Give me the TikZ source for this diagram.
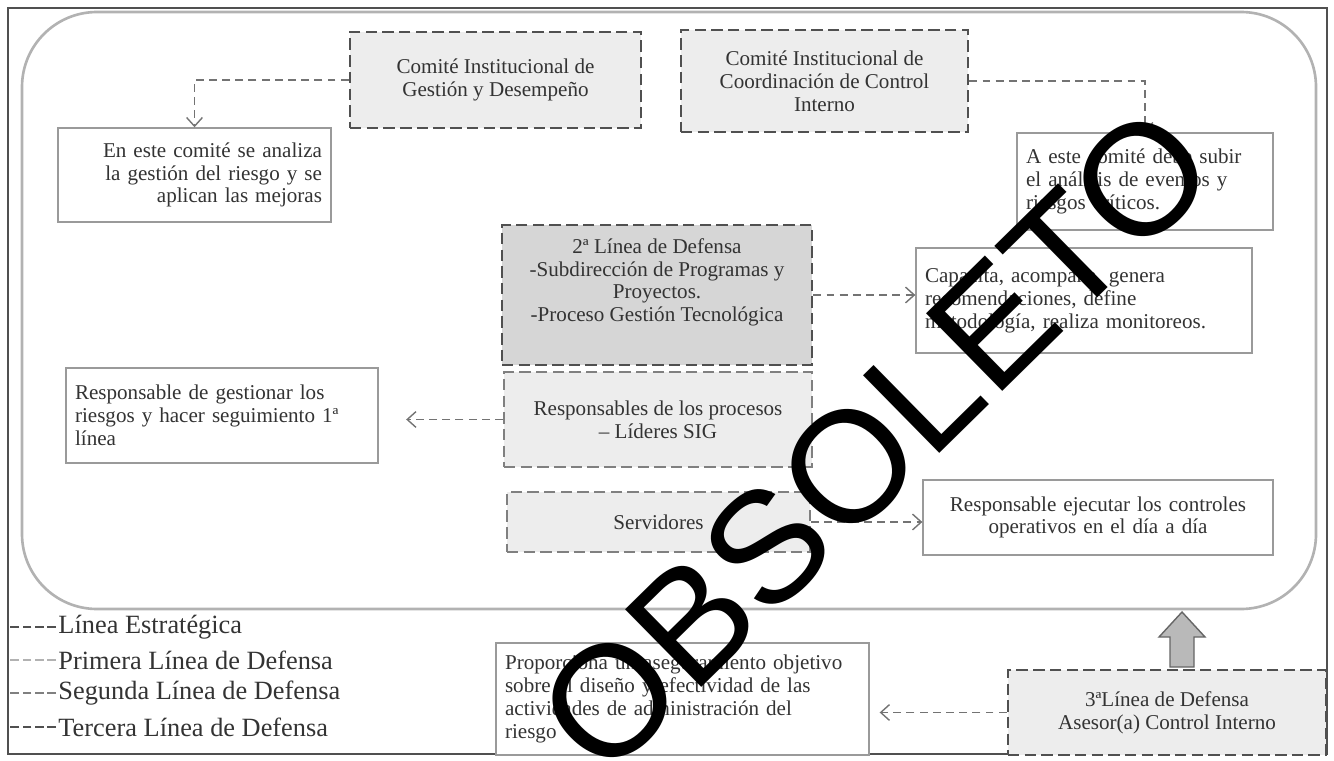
\documentclass[tikz,border=0pt]{standalone}
\usepackage{fontspec}
\setmainfont{Liberation Serif}
\newfontfamily\marcafont{Liberation Sans}
\usepackage{xcolor}
\usepackage{tikz}
\usetikzlibrary{arrows.meta}
\definecolor{txtgris}{HTML}{333333}
\definecolor{bordegris}{HTML}{505050}
\definecolor{fondoclaro}{HTML}{EDEDED}
\definecolor{fondomedio}{HTML}{D6D6D6}
\definecolor{lineagris}{HTML}{9A9A9A}

\begin{document}
\begin{tikzpicture}[x=0.02cm, y=-0.02cm, thick,
    linea node/.style={rectangle, draw=bordegris, line width=1.6pt, dash pattern=on 6.5pt off 3pt, fill=fondoclaro, text=txtgris, align=center, font=\fontsize{12}{13}\selectfont, inner sep=2pt},
    primera node/.style={linea node, draw=gray, line width=1.3pt},
    nota node/.style={rectangle, draw=lineagris, line width=0.8pt, fill=white, text=txtgris, font=\fontsize{12}{13}\selectfont, inner xsep=0.18cm},
    leyenda/.style={text=txtgris, font=\fontsize{15}{16}\selectfont, inner sep=1pt},
    muestra/.style={line width=0.8pt, dash pattern=on 5pt off 2pt},
    flecha/.style={draw=gray!90!black, line width=0.8pt, dash pattern=on 4.5pt off 3pt, -{Straight Barb[length=5pt,width=9pt]}},
    codo/.style={flecha, to path={-| (\tikztotarget)}}]

                \useasboundingbox (0,0) rectangle (1334,760);
                \draw[bordegris, line width=1.2pt] (8,8) rectangle (1327,754);
                \draw[gray!60, line width=1.5pt, rounded corners=1.5cm] (22,12) rectangle (1316,609);

                % comites
                \node[linea node, minimum width=5.82cm, minimum height=1.92cm] (cigd) at (495.5,80) {Comité Institucional de\\Gestión y Desempeño};
                \node[linea node, minimum width=5.74cm, minimum height=2.04cm] (coord) at (824.5,81) {Comité Institucional de\\Coordinación de Control\\Interno};
                \node[nota node, text width=5.1cm, minimum height=1.88cm, align=right] (eneste) at (194.5,175) {En este comité se analiza\\la gestión del riesgo y se\\aplican las mejoras};
                \node[nota node, text width=4.76cm, minimum height=1.94cm, align=left] (aeste) at (1145,181.5) {A este comité debe subir\\el análisis de eventos y\\riesgos críticos.};

                % lineas de defensa
                \node[linea node, fill=fondomedio, minimum width=6.2cm, minimum height=2.8cm, text depth=0.6cm] (seg) at (657,295) {2ª Línea de Defensa\\-Subdirección de Programas y\\Proyectos.\\-Proceso Gestión Tecnológica};
                \node[nota node, text width=6.36cm, minimum height=2.1cm, align=left] (capacita) at (1084,300.5) {Capacita, acompaña, genera\\recomendaciones, define\\metodología, realiza monitoreos.};
                \node[primera node, minimum width=6.16cm, minimum height=1.9cm] (resp) at (658,419.5) {Responsables de los procesos\\– Líderes SIG};
                \node[nota node, text width=5.88cm, minimum height=1.9cm, align=left] (gest) at (222,415.5) {Responsable de gestionar los\\riesgos y hacer seguimiento 1ª\\línea};
                \node[primera node, minimum width=6.06cm, minimum height=1.2cm] (serv) at (658.5,522) {Servidores};
                \node[nota node, text width=6.64cm, minimum height=1.5cm, align=center] (ejec) at (1098,517.5) {Responsable ejecutar los controles\\operativos en el día a día};
                \node[linea node, minimum width=6.36cm, minimum height=1.7cm] (ter) at (1167,712.5) {3ªLínea de Defensa\\Asesor(a) Control Interno};
                \node[nota node, text width=7.1cm, minimum height=2.24cm, align=left] (prop) at (682.5,699) {Proporciona un aseguramiento objetivo\\sobre el diseño y efectividad de las\\actividades de administración del\\riesgo};

                \path
                    (cigd) edge[codo] (eneste)
                    (coord) edge[codo] (aeste)
                    (seg.east) edge[flecha] (seg.east -| capacita.west)
                    (resp.west) edge[flecha, shorten >=0.55cm] (resp.west -| gest.east)
                    (serv.east) edge[flecha] (serv.east -| ejec.west)
                    (ter.west) edge[flecha, shorten >=0.2cm] (ter.west -| prop.east);

                % flecha gruesa hacia arriba
                \draw[fill=gray!55, draw=gray!80!black, line width=0.8pt] (1170,667) -- (1170,637) -- (1159,637) -- (1182,612) -- (1205,637) -- (1194,637) -- (1194,667) -- cycle;

                % leyenda
                \node[leyenda, anchor=west] (l1) at (56,627) {Línea Estratégica};
                \node[leyenda, anchor=west] (l2) at (56,660) {Primera Línea de Defensa};
                \node[leyenda, anchor=west] (l3) at (56,693) {Segunda Línea de Defensa};
                \node[leyenda, anchor=west] (l4) at (56,727) {Tercera Línea de Defensa};
                \draw[muestra, bordegris] (l1.west) -- ++(-46,0);
                \draw[muestra, gray!60] (l2.west) -- ++(-46,0);
                \draw[muestra, gray] (l3.west) -- ++(-46,0);
                \draw[muestra, bordegris] (l4.west) -- ++(-46,0);

                % sello
                \node[rotate=44.5, font=\marcafont\fontsize{90}{90}\selectfont, text=black, inner sep=0pt] (sello) at (876,440) {OBSOLETO};
            \end{tikzpicture}
\end{document}
